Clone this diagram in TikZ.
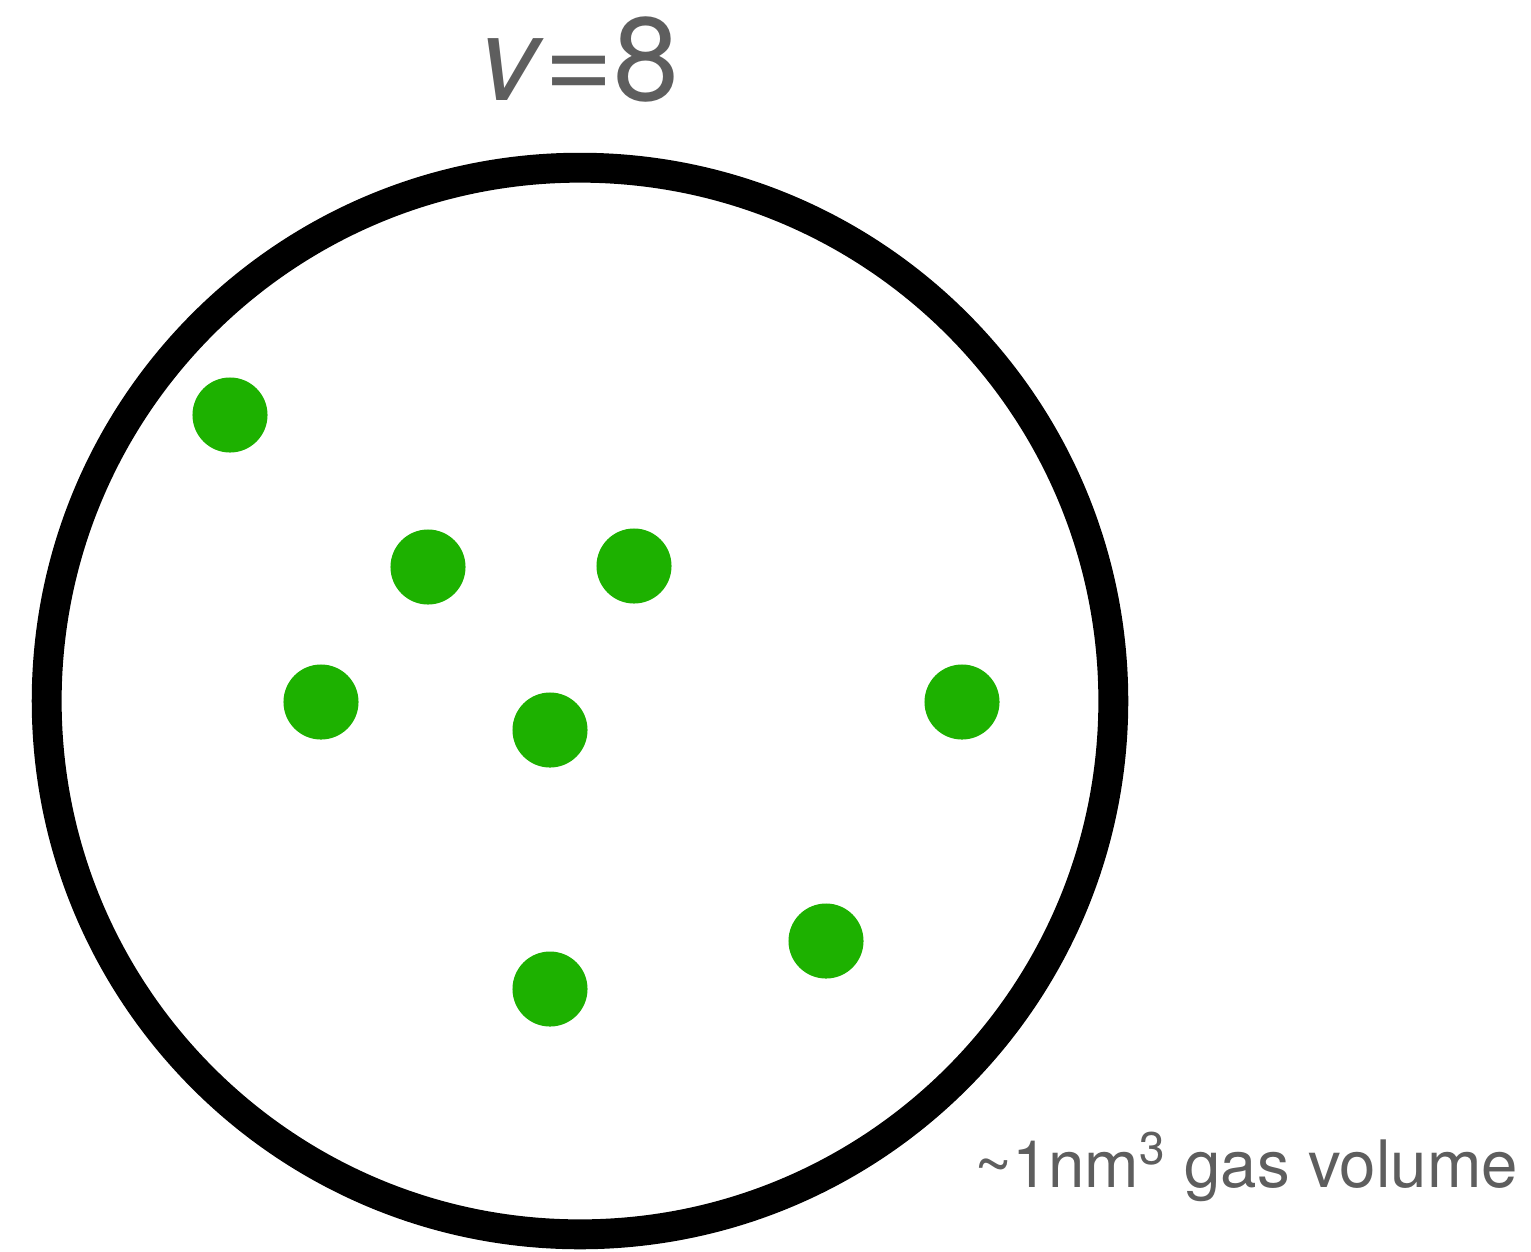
\documentclass[tikz,border=0pt]{standalone}
\usepackage{fontspec}
\setmainfont{TeX Gyre Heros}
\usepackage{xcolor}
\definecolor{molgreen}{HTML}{1DB100}
\definecolor{labelgray}{HTML}{5E5E5E}
\begin{document}
\begin{tikzpicture}[
    x=0.01cm, y=-0.01cm,
    molecule/.style={circle, fill=molgreen, inner sep=0pt, minimum size=0.75cm},
    vessel/.style={circle, draw=black, line width=8.5pt, inner sep=0pt, minimum size=10.66cm},
    label/.style={text=labelgray, inner sep=0pt}
]
\useasboundingbox (0,0) rectangle (1531,1251);

\node[vessel] (volume) at (580,701) {};

\node[molecule] (m1) at (230,415) {};
\node[molecule] (m2) at (428,567) {};
\node[molecule] (m3) at (634,566) {};
\node[molecule] (m4) at (321,702) {};
\node[molecule] (m5) at (550,730) {};
\node[molecule] (m6) at (962,702) {};
\node[molecule] (m7) at (826,941) {};
\node[molecule] (m8) at (550,989) {};

\node[label, anchor=base, font=\fontsize{33.6}{36}\selectfont] (count) at (579,100) {\textit{v}=8};
\node[label, anchor=base, font=\fontsize{18.6}{20}\selectfont] (caption) at (1246,1187) {\textasciitilde 1nm\textsuperscript{3} gas volume};

\end{tikzpicture}
\end{document}
